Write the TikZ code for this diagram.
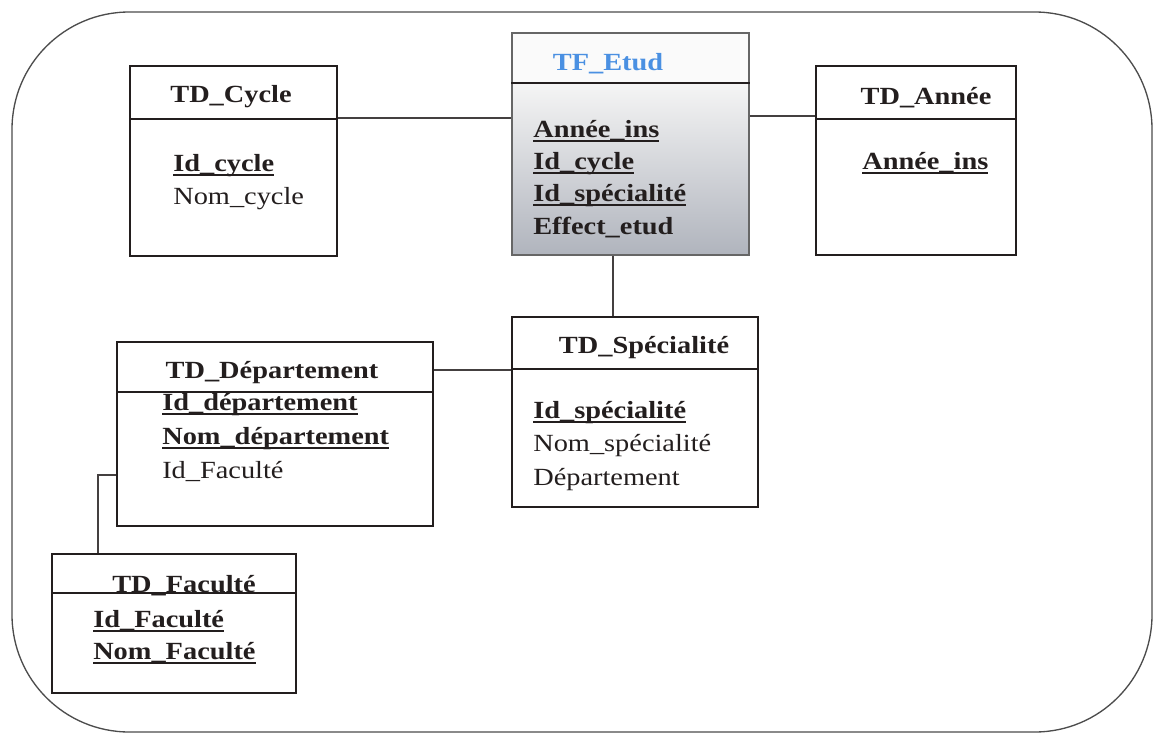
\documentclass[tikz,border=0pt]{standalone}
\usepackage{fontspec}
\setmainfont{Liberation Serif}[FakeStretch=1.15]
\usetikzlibrary{fit}
\definecolor{ink}{RGB}{35,30,30}
\definecolor{factblue}{RGB}{74,144,226}
\definecolor{factshade}{RGB}{176,180,189}
% bold key attribute, underlined through the descenders
\newcommand\keyattr[1]{\setbox0\hbox{\bfseries #1}\rlap{\rule[-3.4pt]{\wd0}{1.5pt}}\box0}

\begin{document}
\begin{tikzpicture}[x=0.75pt,y=-0.75pt,
  tbl/.style={draw=ink, line width=1.1pt, inner sep=0pt},
  sep/.style={draw=ink, line width=1.1pt},
  link/.style={draw=ink!85, line width=0.9pt},
  ttl/.style={font=\fontsize{18.5}{22}\selectfont\bfseries, text=ink, inner sep=0pt, anchor=base},
  fld/.style={font=\fontsize{18.5}{22}\selectfont, text=ink, inner sep=0pt, anchor=base west},
]
\useasboundingbox (0,0) rectangle (1155,735);

% frame around the whole schema
\draw[line width=1pt, draw=black!70, rounded corners=88pt] (12,12) rectangle (1152,732);

% ---------- fact table ----------
\fill[black!2] (512,33) rectangle (749,83);
\fill[top color=black!4, bottom color=factshade] (512,83) rectangle (749,255);
\node[tbl, draw=black!60, fit={(512,33) (749,255)}] (etud) {};
\draw[sep] (etud.west |- 0,83) -- (etud.east |- 0,83);
\node[ttl, text=factblue] (etudT) at (608,70) {TF\_Etud};
\node[fld] (etud1) at (533,137) {\keyattr{Année\_ins}};
\node[fld] (etud2) at (533,169) {\keyattr{Id\_cycle}};
\node[fld] (etud3) at (533,201) {\keyattr{Id\_spécialité}};
\node[fld] (etud4) at (533,234) {\bfseries Effect\_etud};

% ---------- dimension tables ----------
\node[tbl, fit={(130,66) (337,256)}] (cyc) {};
\draw[sep] (cyc.west |- 0,119) -- (cyc.east |- 0,119);
\node[ttl] (cycT) at (231,103) {TD\_Cycle};
\node[fld] (cyc1) at (173,171) {\keyattr{Id\_cycle}};
\node[fld] (cyc2) at (173,204) {Nom\_cycle};

\node[tbl, fit={(816,66) (1016,255)}] (ann) {};
\draw[sep] (ann.west |- 0,119) -- (ann.east |- 0,119);
\node[ttl] (annT) at (926,104) {TD\_Année};
\node[fld] (ann1) at (862,169) {\keyattr{Année\_ins}};

\node[tbl, fit={(512,317) (758,507)}] (spec) {};
\draw[sep] (spec.west |- 0,369) -- (spec.east |- 0,369);
\node[ttl] (specT) at (644,353) {TD\_Spécialité};
\node[fld] (spec1) at (533,418) {\keyattr{Id\_spécialité}};
\node[fld] (spec2) at (533,451) {Nom\_spécialité};
\node[fld] (spec3) at (533,485) {Département};

\node[tbl, fit={(117,342) (433,526)}] (dep) {};
\draw[sep] (dep.west |- 0,392) -- (dep.east |- 0,392);
\node[ttl] (depT) at (272,378) {TD\_Département};
\node[fld] (dep1) at (162,410) {\keyattr{Id\_département}};
\node[fld] (dep2) at (162,444) {\keyattr{Nom\_département}};
\node[fld] (dep3) at (162,478) {Id\_Faculté};

\node[tbl, fit={(52,554) (296,693)}] (fac) {};
\draw[sep] (fac.west |- 0,593) -- (fac.east |- 0,593);
\node[ttl] (facT) at (184,592) {TD\_Faculté};
\node[fld] (fac1) at (93,627) {\keyattr{Id\_Faculté}};
\node[fld] (fac2) at (93,659) {\keyattr{Nom\_Faculté}};

% ---------- links ----------
\coordinate (lvlCyc) at (0,118);
\coordinate (lvlAnn) at (0,116);
\coordinate (colSpec) at (613,0);
\coordinate (lvlDep) at (0,370);
\coordinate (bendFac) at (98,475);

\draw[link] (cyc.east |- lvlCyc) -- (etud.west |- lvlCyc);
\draw[link] (etud.east |- lvlAnn) -- (ann.west |- lvlAnn);
\draw[link] (etud.south -| colSpec) -- (spec.north -| colSpec);
\draw[link] (dep.east |- lvlDep) -- (spec.west |- lvlDep);
\draw[link] (dep.west |- bendFac) -- (bendFac) -- (fac.north -| bendFac);
\end{tikzpicture}
\end{document}
